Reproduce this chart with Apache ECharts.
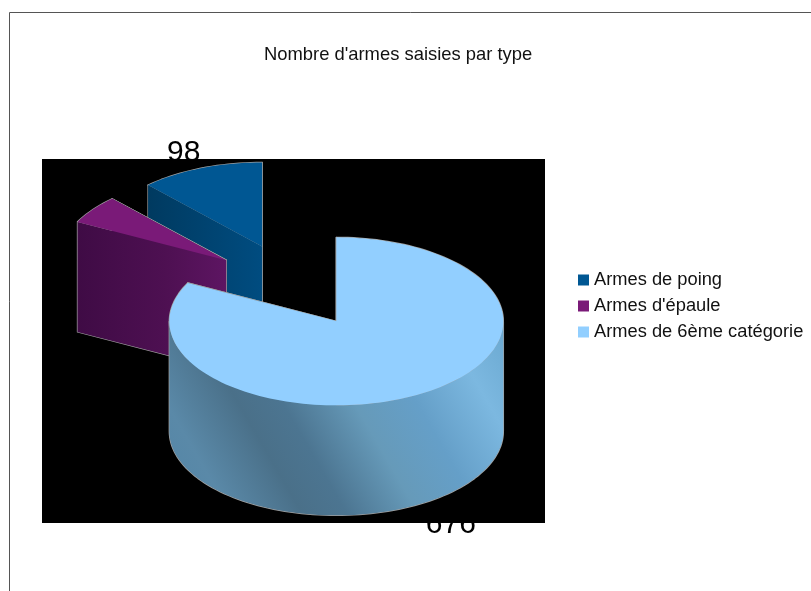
<!DOCTYPE html>
<html>
<head>
<meta charset="utf-8">
<title>Nombre d'armes saisies par type</title>
<script src="https://cdn.jsdelivr.net/npm/echarts@6/dist/echarts.min.js"></script>
<style>
  html, body { margin: 0; padding: 0; background: #fff; }
  #main { width: 811px; height: 591px; }
</style>
</head>
<body>
<div id="main"></div>
<script>
var categories = ['Armes de poing', "Armes d'épaule", 'Armes de 6ème catégorie'];
var values = [98, 45, 676];
var shownLabels = [0, 2];

var topColors = ['#005793', '#7a1a78', '#92cfff'];
var total = values.reduce(function (a, b) { return a + b; }, 0);

// pie geometry (centre before the slices are pulled out)
var cx = 292.8, cy = 285.5, rx = 167, ry = 84, depth = 110, explode = 0.5;

function grad(x, y, x2, y2, stops) {
  return {
    type: 'linear', x: x, y: y, x2: x2, y2: y2,
    colorStops: stops.map(function (s) { return { offset: s[0], color: s[1] }; })
  };
}

var wallColors = [
  grad(0, 0, 1, 0, [[0, '#003a60'], [1, '#004c80']]),
  grad(0, 0, 1, 0, [[0, '#3f0b45'], [0.6, '#4e1052'], [1, '#5d1562']]),
  grad(0, 1, 1, 0, [[0, '#5285a6'], [0.14, '#5a89a8'], [0.3, '#4a7089'], [0.4, '#4c7591'], [0.56, '#669ab9'], [0.7, '#659fc8'], [0.86, '#7cb8e0'], [1, '#6aa8d0']])
];

// slice angles in degrees, clockwise from 12 o'clock, slices run counter clockwise
function sliceOf(i) {
  var before = 0;
  for (var k = 0; k < i; k++) before += values[k];
  var a1 = -before / total * 360;
  var a0 = -(before + values[i]) / total * 360;
  var mid = (a0 + a1) / 2 * Math.PI / 180;
  return {
    a0: a0, a1: a1, mid: mid,
    x: cx + explode * rx * Math.sin(mid),
    y: cy - explode * ry * Math.cos(mid)
  };
}

function rim(s, deg, dy) {
  var t = deg * Math.PI / 180;
  return [s.x + rx * Math.sin(t), s.y - ry * Math.cos(t) + dy];
}

function arc(s, from, to, dy) {
  var pts = [];
  var n = Math.max(2, Math.ceil(Math.abs(to - from) / 2));
  for (var j = 0; j <= n; j++) pts.push(rim(s, from + (to - from) * j / n, dy));
  return pts;
}

function renderSlice(i) {
  return function () {
    var s = sliceOf(i);
    var faces = [];
    // faces from the centre out to each end of the slice
    [s.a1, s.a0].forEach(function (a) {
      faces.push({ pts: [[s.x, s.y], rim(s, a, 0), rim(s, a, depth), [s.x, s.y + depth]], fill: wallColors[i] });
    });
    // outer wall, only the front half of the rim shows
    var from = Math.max(s.a0, -270), to = Math.min(s.a1, -90);
    if (to > from) {
      var wall = arc(s, from, to, 0).concat(arc(s, to, from, depth));
      faces.push({ pts: wall, fill: wallColors[i] });
    }
    var top = [[s.x, s.y]].concat(arc(s, s.a0, s.a1, 0));
    faces.push({ pts: top, fill: topColors[i] });

    var children = [];
    // grey under-stroke leaves only the outline once the fills are on top
    faces.forEach(function (f) {
      children.push({
        type: 'polygon', shape: { points: f.pts },
        style: { fill: 'none', stroke: '#a0a0a0', lineWidth: 1.4, lineJoin: 'round' }
      });
    });
    faces.forEach(function (f) {
      children.push({
        type: 'polygon', shape: { points: f.pts },
        style: { fill: f.fill, stroke: null }
      });
    });
    return { type: 'group', children: children };
  };
}

function renderLabel(params) {
  var i = shownLabels[params.dataIndex];
  var s = sliceOf(i);
  var nudgeX = i === 2 ? 3 : 0;
  var nudgeY = i === 2 ? depth + 2 : 6;
  return {
    type: 'text',
    style: {
      x: s.x + 1.28 * rx * Math.sin(s.mid) + nudgeX,
      y: s.y - 1.28 * ry * Math.cos(s.mid) + nudgeY,
      text: String(values[i]),
      fill: '#000',
      font: '30px "Liberation Sans", Arial, sans-serif',
      align: 'center',
      verticalAlign: 'middle'
    }
  };
}

var series = [{
  type: 'custom', name: 'labels', coordinateSystem: 'none', silent: true, z: 1,
  data: shownLabels.map(function (i) { return values[i]; }),
  renderItem: renderLabel
}];
categories.forEach(function (name, i) {
  series.push({
    type: 'custom', name: name, coordinateSystem: 'none', silent: true, z: 5,
    itemStyle: { color: topColors[i] },
    data: [values[i]],
    renderItem: renderSlice(i)
  });
});

var chart = echarts.init(document.getElementById('main'), null, { renderer: 'canvas' });
chart.setOption({
  animation: false,
  backgroundColor: '#fff',
  textStyle: { fontFamily: '"Liberation Sans", Arial, sans-serif' },
  title: {
    text: "Nombre d'armes saisies par type",
    left: 259, top: 41,
    textStyle: { fontSize: 18.4, fontWeight: 'normal', color: '#111' }
  },
  legend: {
    data: categories,
    orient: 'vertical', left: 573, top: 266,
    icon: 'rect', itemWidth: 11, itemHeight: 11, itemGap: 8,
    selectedMode: false,
    textStyle: { fontSize: 18.3, color: '#111', padding: [0, 0, 0, 0] }
  },
  graphic: {
    elements: [
      { type: 'polyline', z: 0, silent: true, shape: { points: [[9.5, 591], [9.5, 12.5], [811, 12.5]] }, style: { stroke: '#555', lineWidth: 1, fill: 'none' } },
      { type: 'rect', z: 2, silent: true, shape: { x: 42, y: 159, width: 503, height: 364 }, style: { fill: '#000' } }
    ]
  },
  series: series
});
</script>
</body>
</html>
